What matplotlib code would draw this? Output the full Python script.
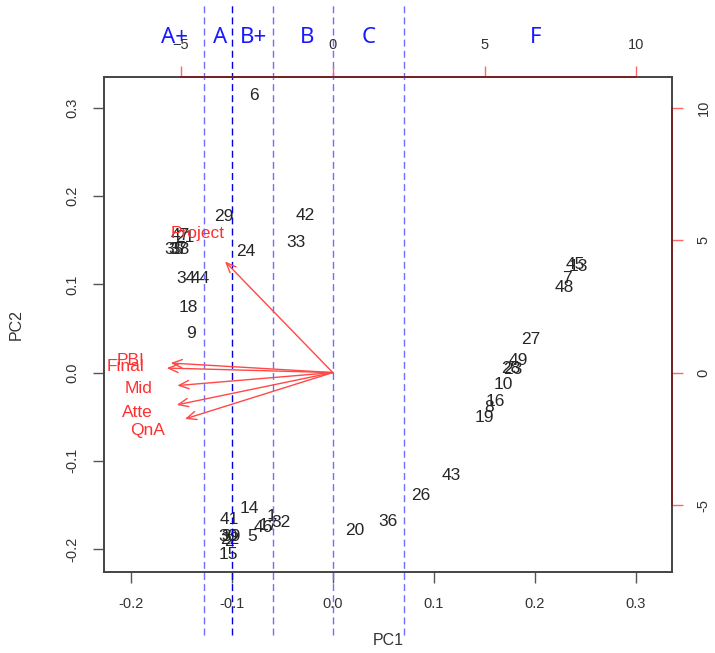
import matplotlib
matplotlib.use("Agg")
import matplotlib.pyplot as plt
import numpy as np

plt.rcParams["font.family"] = ["Liberation Sans", "DejaVu Sans"]

# observation scores (PC1, PC2) and their labels
labels = ["6", "29", "42", "33", "24", "35", "37", "38", "47", "21",
          "34", "44", "18", "9",
          "45", "13", "7", "48", "27", "49", "23", "28", "10", "16", "8", "19",
          "43", "26", "36", "20",
          "14", "41", "1", "17", "32", "46", "5", "30", "39", "22", "2", "15"]
pc1 = [-0.078, -0.108, -0.027, -0.036, -0.086, -0.157, -0.153, -0.151, -0.151, -0.147,
       -0.145, -0.131, -0.143, -0.140,
       0.240, 0.243, 0.232, 0.229, 0.196, 0.184, 0.178, 0.176, 0.169, 0.161, 0.155, 0.150,
       0.117, 0.087, 0.055, 0.022,
       -0.083, -0.102, -0.061, -0.064, -0.051, -0.069, -0.080, -0.104, -0.101, -0.102, -0.103, -0.103]
pc2 = [0.314, 0.177, 0.178, 0.148, 0.137, 0.139, 0.139, 0.140, 0.156, 0.153,
       0.107, 0.107, 0.074, 0.044,
       0.123, 0.120, 0.107, 0.097, 0.037, 0.014, 0.004, 0.005, -0.013, -0.033, -0.040, -0.051,
       -0.117, -0.139, -0.169, -0.179,
       -0.154, -0.167, -0.163, -0.174, -0.170, -0.176, -0.186, -0.186, -0.186, -0.189, -0.192, -0.206]

# variable loadings (top / right scale)
var_names = ["Project", "PBI", "Final", "Mid", "Atte", "QnA"]
var_x = [-3.55, -5.34, -5.47, -5.12, -5.14, -4.87]
var_y = [4.19, 0.36, 0.17, -0.49, -1.22, -1.75]

# grade cut lines on PC1
cut_pc1 = [-0.1275, -0.0999, -0.0593, 0.0, 0.0703]
grades = ["A+", "A", "B+", "B", "C", "F"]
grade_x = [-0.157, -0.112, -0.079, -0.025, 0.035, 0.201]

ticks1 = [-0.2, -0.1, 0.0, 0.1, 0.2, 0.3]
ticks2 = [-5, 0, 5, 10]

k = 0.03006
lim = (-0.2265, 0.3355)

fig = plt.figure(figsize=(7.15, 6.53), dpi=100)
pos = [0.1455, 0.1236, 0.7939, 0.7589]
ax = fig.add_axes(pos)
ax.set_xlim(lim)
ax.set_ylim(lim)
ax.set_xticks(ticks1)
ax.set_yticks(ticks1)
ax.set_xticklabels([f"{t:.1f}" for t in ticks1])
ax.set_yticklabels([f"{t:.1f}" for t in ticks1], rotation=90, va="center")
ax.tick_params(direction="out", length=8, width=1, color="#555555",
               labelsize=10.5, labelcolor="#333333", pad=10)
for s in ax.spines.values():
    s.set_color("#444444")
    s.set_linewidth(1.4)

for lab, x, y in zip(labels, pc1, pc2):
    ax.text(x, y, lab, ha="center", va="center", fontsize=12.5, color="#262626")

ax.set_xlabel("PC1", fontsize=11.5, color="#333333")
ax.set_ylabel("PC2", fontsize=11.5, color="#333333")
ax.xaxis.set_label_coords(0.5, -0.1225)
ax.yaxis.set_label_coords(-0.141, 0.5)

# secondary axes for loadings
ax2 = fig.add_axes(pos)
ax2.set_facecolor("none")
ax2.set_xlim(lim[0] / k, lim[1] / k)
ax2.set_ylim(lim[0] / k, lim[1] / k)
ax2.xaxis.tick_top()
ax2.yaxis.tick_right()
ax2.set_xticks(ticks2)
ax2.set_yticks(ticks2)
ax2.set_yticklabels([str(t) for t in ticks2], rotation=90, va="center")
ax2.tick_params(direction="out", length=8, width=1, color="#ff6666",
                labelsize=10.5, labelcolor="#333333", pad=10)
ax2.spines["left"].set_visible(False)
ax2.spines["bottom"].set_visible(False)
for side in ["top", "right"]:
    ax2.spines[side].set_bounds(-5, 10)
    ax2.spines[side].set_color("#7a2222")
    ax2.spines[side].set_linewidth(1.4)

for name, vx, vy in zip(var_names, var_x, var_y):
    ax2.annotate("", xy=(vx, vy), xytext=(0, 0),
                 arrowprops=dict(arrowstyle="->,head_length=0.7,head_width=0.3",
                                 color="#ff4848", lw=1, shrinkA=0, shrinkB=0))
    ax2.text(1.25 * vx, 1.25 * vy, name, ha="center", va="center",
             fontsize=12.5, color="#ff3030")

# grade cut lines and labels
for c in cut_pc1:
    col = "#0000dd" if c == -0.0999 else "#6f6fff"
    ax.axvline(c, ymin=-0.1265, ymax=1.1447, clip_on=False, color=col,
               ls=(0, (5, 3)), lw=1, zorder=5)
for g, gx in zip(grades, grade_x):
    ax.text(gx, 1.08, g, transform=ax.get_xaxis_transform(), ha="center",
            va="center", fontsize=16, color="#1a1aff", family=["Noto Sans", "DejaVu Sans"])

fig.savefig("out.png", dpi=100)
